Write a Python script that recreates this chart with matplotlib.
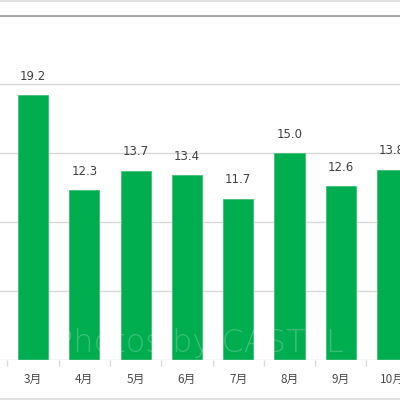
import matplotlib
matplotlib.use("Agg")
import matplotlib.pyplot as plt
from matplotlib.lines import Line2D
import numpy as np

plt.rcParams['font.family'] = ['Noto Sans CJK JP', 'DejaVu Sans']

months = ["3月", "4月", "5月", "6月", "7月", "8月", "9月", "10月"]
values = [19.2, 12.3, 13.7, 13.4, 11.7, 15.0, 12.6, 13.8]
yticks = [0, 5, 10, 15, 20, 25]

fig = plt.figure(figsize=(4, 4), dpi=100)
ax = fig.add_axes([0, 0.1, 1, 0.8625])

x = np.arange(len(months))
green = "#00AD4F"
bars = ax.bar(x, values, width=0.585, color=green, edgecolor="#3FBF74", linewidth=0.6, zorder=3)

for xi, v in zip(x, values):
    ax.annotate(f"{v:.1f}", (xi, v), xytext=(0, 9), textcoords="offset points",
                ha="center", va="bottom", fontsize=8.5, color="#404040",
                family=['DejaVu Sans'])

for t in yticks[1:-1]:
    ax.axhline(t, color="#D9D9D9", lw=1, zorder=1)
ax.axhline(25, color="#A6A6A6", lw=2.2, zorder=1)
ax.axhline(0, color="#D9D9D9", lw=1, zorder=4)

ax.set_yticks([])
ax.set_xticks(x)
ax.set_xticklabels(months, fontsize=8.5, color="#4A4A4A")
ax.tick_params(axis="x", which="major", length=0, pad=9)
ax.set_xticks(np.arange(-0.5, len(months), 1), minor=True)
ax.tick_params(axis="x", which="minor", length=4, color="#D9D9D9", width=1)

ax.set_xlim(-0.643, 7.154)
ax.set_ylim(0, 25)

for s in ax.spines.values():
    s.set_visible(False)

# outer borders
fig.add_artist(Line2D([0, 1], [0.9985, 0.9985], color="#D9D9D9", lw=1.2, transform=fig.transFigure))
fig.add_artist(Line2D([0, 1], [0.0025, 0.0025], color="#D9D9D9", lw=1.2, transform=fig.transFigure))

# watermark
fig.text(0.135, 0.105, "Photos by CASTEL", fontsize=23, color="white", alpha=0.22,
         family=['DejaVu Sans'], fontweight="light", ha="left", va="bottom", zorder=10)

fig.savefig("out.png", dpi=100)
